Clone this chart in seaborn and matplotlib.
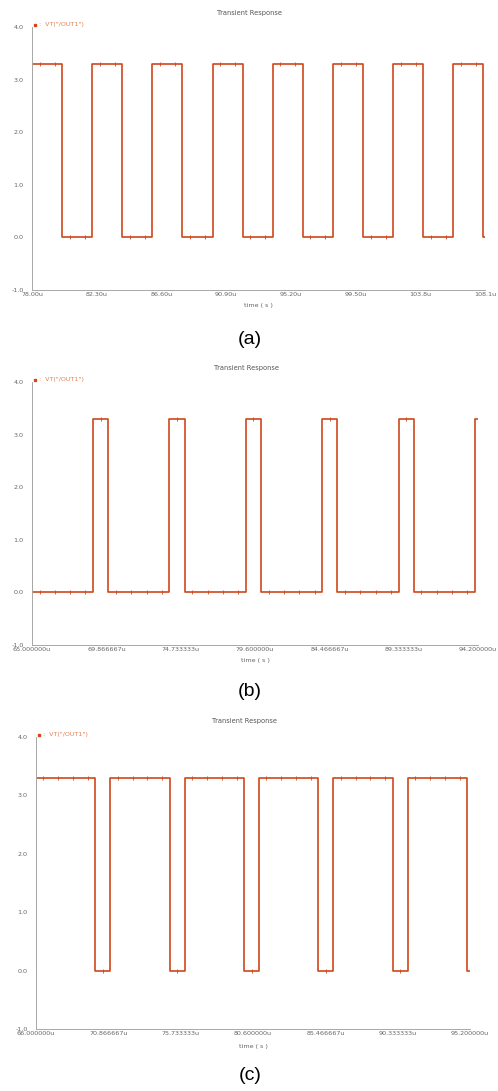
import numpy as np
import pandas as pd
import matplotlib
matplotlib.use("Agg")
import matplotlib.pyplot as plt
from matplotlib.ticker import MultipleLocator, FixedLocator
import seaborn as sns

sns.set_theme(style="white")
plt.rcParams["font.family"] = ["DejaVu Sans"]

# ---- waveform data (times in microseconds, levels in volts) ----
HIGH = 3.3
LOW = 0.0

# (a) 4 us period, 50 % duty
a_range = (78.0, 108.1)
a_start_level = LOW
a_rise = [78.0, 82.0, 86.0, 90.0, 94.0, 98.0, 102.0, 106.0]
a_fall = [80.0, 84.0, 88.0, 92.0, 96.0, 100.0, 104.0, 108.0]
a_ticks = [78.0, 82.3, 86.6, 90.9, 95.2, 99.5, 103.8, 108.1]
a_labels = ["78.00u", "82.30u", "86.60u", "90.90u", "95.20u", "99.50u", "103.8u", "108.1u"]

# (b) 5 us period, short high pulse
b_range = (65.0, 94.2)
b_start_level = HIGH
b_rise = [69.0, 74.0, 79.0, 84.0, 89.0, 94.0]
b_fall = [65.0, 70.0, 75.0, 80.0, 85.0, 90.0]
b_ticks = [65.0, 69.866667, 74.733333, 79.6, 84.466667, 89.333333, 94.2]
b_labels = ["65.000000u", "69.866667u", "74.733333u", "79.600000u",
            "84.466667u", "89.333333u", "94.200000u"]

# (c) 5 us period, short low pulse
c_range = (66.0, 95.2)
c_start_level = LOW
c_rise = [66.0, 71.0, 76.0, 81.0, 86.0, 91.0]
c_fall = [70.0, 75.0, 80.0, 85.0, 90.0, 95.0]
c_ticks = [66.0, 70.866667, 75.733333, 80.6, 85.466667, 90.333333, 95.2]
c_labels = ["66.000000u", "70.866667u", "75.733333u", "80.600000u",
            "85.466667u", "90.333333u", "95.200000u"]

y_ticks = [-1.0, 0.0, 1.0, 2.0, 3.0, 4.0]
y_labels = ["-1.0", "0.0", "1.0", "2.0", "3.0", "4.0"]

LINE = "#d0481a"
LEGEND = "#e2804f"
AXIS = "#a8a8a8"
TEXT = "#666666"


def step_series(trange, start_level, rises, falls):
    """Turn edge times into the corner points of a square wave."""
    edges = sorted([(t, HIGH) for t in rises] + [(t, LOW) for t in falls])
    ts, vs = [trange[0]], [start_level]
    level = start_level
    for t, new in edges:
        ts += [t, t]
        vs += [level, new]
        level = new
    ts.append(trange[1])
    vs.append(level)
    return pd.DataFrame({"time": ts, "volt": vs})


def level_at(df, t):
    idx = np.searchsorted(df["time"].values, t, side="right") - 1
    return df["volt"].values[idx]


def panel(fig, rect, trange, start_level, rises, falls, ticks, labels, mark_step):
    ax = fig.add_axes(rect)
    df = step_series(trange, start_level, rises, falls)
    sns.lineplot(data=df, x="time", y="volt", ax=ax, sort=False, estimator=None,
                 color=LINE, linewidth=1.2, legend=False)
    # sample markers along the trace
    st = np.arange(trange[0] + mark_step / 2, trange[1], mark_step)
    sv = [level_at(df, t) for t in st]
    sns.scatterplot(x=st, y=sv, ax=ax, marker="|", s=5, color=LINE,
                    linewidth=0.6, legend=False)

    ax.set_xlim(*trange)
    ax.set_ylim(-1.0, 4.0)
    ax.xaxis.set_major_locator(FixedLocator(ticks))
    ax.set_xticklabels(labels)
    ax.xaxis.set_minor_locator(MultipleLocator((ticks[1] - ticks[0]) / 8))
    ax.yaxis.set_major_locator(FixedLocator(y_ticks))
    ax.set_yticklabels(y_labels)
    ax.yaxis.set_minor_locator(MultipleLocator(0.1))
    ax.tick_params(which="both", direction="in", colors=AXIS, labelcolor=TEXT,
                   labelsize=4.6, width=0.6)
    ax.tick_params(which="major", length=3.5, pad=1.5)
    ax.tick_params(which="minor", length=1.6)
    ax.tick_params(axis="y", which="major", pad=6)
    for s in ("top", "right"):
        ax.spines[s].set_visible(False)
    for s in ("left", "bottom"):
        ax.spines[s].set_color(AXIS)
        ax.spines[s].set_linewidth(0.7)
    ax.set_xlabel("")
    ax.set_ylabel("")
    ax.grid(False)

    # header: title and legend entry
    ax.text(0.48, 1.055, "Transient Response", transform=ax.transAxes,
            ha="center", va="center", fontsize=4.8, color="#555555")
    ax.plot([0.006], [1.008], transform=ax.transAxes, marker="s", ms=2.0,
            color=LINE, clip_on=False)
    ax.text(0.016, 1.008, ':  VT("/OUT1")', transform=ax.transAxes,
            ha="left", va="center", fontsize=4.6, color=LEGEND)
    ax.text(0.5, -0.05, "time ( s )", transform=ax.transAxes,
            ha="center", va="top", fontsize=4.6, color=TEXT)
    return ax


W, H = 498, 1091
fig = plt.figure(figsize=(W / 100, H / 100), dpi=100)


def rect(left, right, top, bottom):
    return [left / W, 1 - bottom / H, (right - left) / W, (bottom - top) / H]


panel(fig, rect(32, 485, 27, 290), a_range, a_start_level, a_rise, a_fall,
      a_ticks, a_labels, 1.0)
panel(fig, rect(32, 478, 382, 645), b_range, b_start_level, b_rise, b_fall,
      b_ticks, b_labels, 1.0)
panel(fig, rect(36, 470, 737, 1029), c_range, c_start_level, c_rise, c_fall,
      c_ticks, c_labels, 1.0)

for label, y in (("(a)", 340), ("(b)", 692), ("(c)", 1076)):
    fig.text(250 / W, 1 - y / H, label, ha="center", va="center",
             fontsize=14, family="Liberation Sans", color="black")

fig.savefig("out.png", dpi=100)
